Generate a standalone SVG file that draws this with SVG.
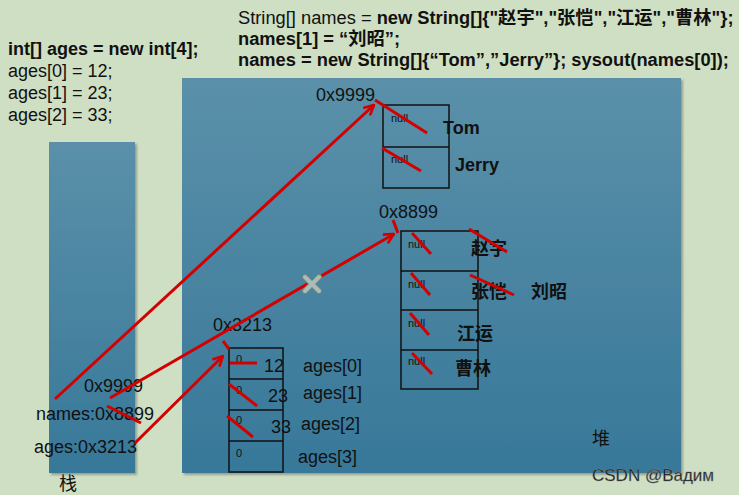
<svg xmlns="http://www.w3.org/2000/svg" width="739" height="495" viewBox="0 0 739 495">
<defs>
<linearGradient id="blue" x1="0" y1="0" x2="0" y2="1">
<stop offset="0" stop-color="#5b90a9"/>
<stop offset="1" stop-color="#377899"/>
</linearGradient>
<filter id="sh" x="-5%" y="-5%" width="110%" height="110%">
<feDropShadow dx="2" dy="2" stdDeviation="1.2" flood-color="#555" flood-opacity="0.45"/>
</filter>
<marker id="ah" viewBox="0 0 12 12" refX="11" refY="6" markerWidth="12" markerHeight="12" markerUnits="userSpaceOnUse" orient="auto">
<path d="M1,1 L11,6 L1,11" fill="none" stroke="#d40000" stroke-width="2.6"/>
</marker>
<style>
text{font-family:"Liberation Sans",Arial,"Noto Sans CJK SC",sans-serif;fill:#111}
.t{font-size:18px}
.c{font-size:18.3px}
.b{font-weight:bold}
.s{font-size:11px}
.cn{font-family:"Noto Sans CJK SC","Liberation Sans",sans-serif;font-size:18px;font-weight:bold}
.cell{fill:none;stroke:#111;stroke-width:1.5}
.red{stroke:#d40000;stroke-width:3;fill:none}
</style>
</defs>
<rect width="739" height="495" fill="#cfdfc3"/>

<g id="code">
<text class="t b" x="8" y="55">int[] ages = new int[4];</text>
<text class="t" x="8" y="77">ages[0] = 12;</text>
<text class="t" x="8" y="99">ages[1] = 23;</text>
<text class="t" x="8" y="121">ages[2] = 33;</text>
<text class="c" x="238" y="24">String[] names = <tspan class="b">new String[]{"赵宇","张恺","江运","曹林"};</tspan></text>
<text class="c b" x="238" y="45">names[1] = “刘昭”;</text>
<text class="c b" x="238" y="66">names = new String[]{“Tom”,”Jerry”}; sysout(names[0]);</text>
</g>

<g id="stack">
<rect x="49" y="142" width="86" height="331" fill="url(#blue)" filter="url(#sh)"/>
<text class="t" x="84" y="392">0x9999</text>
<text class="t" x="36" y="420">names:0x8899</text>
<text class="t" x="34" y="453">ages:0x3213</text>
<text class="t" font-family="Noto Sans CJK SC,sans-serif" x="59" y="490">栈</text>
</g>

<g id="heap">
<rect x="182" y="78" width="499" height="395" fill="url(#blue)" filter="url(#sh)"/>
<text class="t" font-family="Noto Sans CJK SC,sans-serif" x="592" y="445">堆</text>
</g>

<g id="arr9999">
<text class="t" x="316" y="101">0x9999</text>
<rect class="cell" x="383" y="105" width="66" height="83"/>
<line class="cell" x1="383" y1="147" x2="449" y2="147"/>
<text class="s" x="391" y="122">null</text>
<text class="s" x="391" y="163">null</text>
<text class="t b" font-size="17" x="443" y="134">Tom</text>
<text class="t b" font-size="17" x="455" y="171">Jerry</text>
<line class="red" x1="375" y1="100" x2="427" y2="133"/>
<line class="red" x1="382" y1="148" x2="421" y2="171"/>
</g>

<g id="arr8899">
<text class="t" x="379" y="218">0x8899</text>
<rect class="cell" x="401" y="231" width="77" height="158"/>
<line class="cell" x1="401" y1="271" x2="478" y2="271"/>
<line class="cell" x1="401" y1="310" x2="478" y2="310"/>
<line class="cell" x1="401" y1="350" x2="478" y2="350"/>
<text class="s" x="408" y="248">null</text>
<text class="s" x="408" y="288">null</text>
<text class="s" x="408" y="327">null</text>
<text class="s" x="408" y="365">null</text>
<text class="cn" x="471" y="255">赵宇</text>
<text class="cn" x="471" y="298">张恺</text>
<text class="cn" x="457" y="340">江运</text>
<text class="cn" x="455" y="375">曹林</text>
<text class="cn" x="531" y="298">刘昭</text>
<line class="red" x1="393" y1="220" x2="398" y2="233"/>
<line class="red" x1="412" y1="233" x2="431" y2="254"/>
<line class="red" x1="411" y1="273" x2="430" y2="295"/>
<line class="red" x1="410" y1="313" x2="429" y2="335"/>
<line class="red" x1="412" y1="353" x2="432" y2="374"/>
<line class="red" x1="469" y1="229" x2="507" y2="252"/>
<line class="red" x1="470" y1="275" x2="514" y2="295"/>
</g>

<g id="arr3213">
<text class="t" x="213" y="331">0x3213</text>
<rect class="cell" x="229" y="348" width="54" height="124"/>
<line class="cell" x1="229" y1="379" x2="283" y2="379"/>
<line class="cell" x1="229" y1="410" x2="283" y2="410"/>
<line class="cell" x1="229" y1="441" x2="283" y2="441"/>
<text class="s" x="236" y="363">0</text>
<text class="s" x="236" y="394">0</text>
<text class="s" x="236" y="424">0</text>
<text class="s" x="236" y="457">0</text>
<text class="t" font-size="17" x="264" y="372">12</text>
<text class="t" font-size="17" x="268" y="402">23</text>
<text class="t" font-size="17" x="271" y="433">33</text>
<text class="t" x="303" y="372">ages[0]</text>
<text class="t" x="303" y="399">ages[1]</text>
<text class="t" x="301" y="430">ages[2]</text>
<text class="t" x="298" y="463">ages[3]</text>
<line class="red" x1="223" y1="341" x2="229" y2="349"/>
<line class="red" x1="230" y1="363" x2="257" y2="363"/>
<line class="red" x1="229" y1="384" x2="257" y2="406"/>
<line class="red" x1="227" y1="416" x2="253" y2="437"/>
</g>

<g id="connectors">
<line class="red" x1="55" y1="399" x2="374" y2="105" marker-end="url(#ah)"/>
<line class="red" x1="110" y1="398" x2="394" y2="234" marker-end="url(#ah)"/>
<line class="red" x1="135" y1="443" x2="223" y2="356" marker-end="url(#ah)"/>
<line class="red" x1="107" y1="406" x2="141" y2="423"/>
<g stroke-linecap="round">
<path d="M305,277 L319,291 M319,277 L305,291" stroke="#6f8a86" stroke-width="6"/>
<path d="M305,277 L319,291 M319,277 L305,291" stroke="#a9bdb4" stroke-width="4"/>
</g>
</g>

<text x="592" y="481" font-family="Liberation Sans,sans-serif" font-size="17" fill="#f2f2f2" stroke="#8a8a8a" stroke-width="0.4">CSDN @Вадим</text>
</svg>
